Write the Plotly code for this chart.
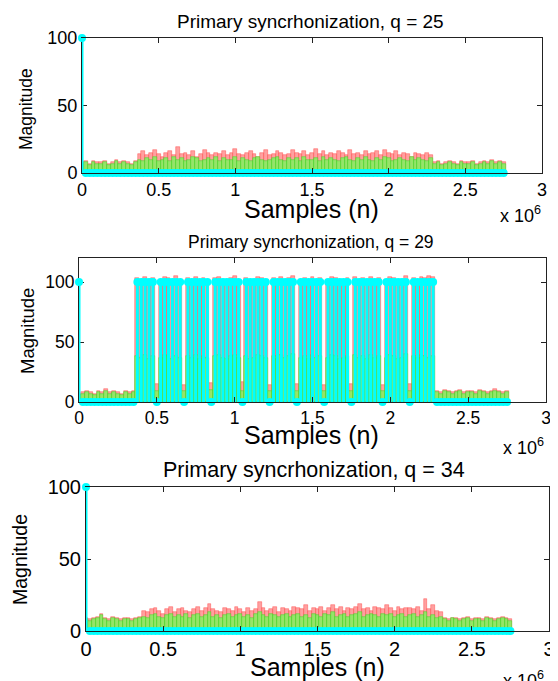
import plotly.graph_objects as go

# the page body has an 8px margin, so the figure is drawn 8px in from the corner
OFF = 8
W, H = 558 - OFF, 681 - OFF

# sample positions, in units of 10^6 samples
samples_m = [round(i * 0.025, 3) for i in range(111)]
x_ticks = [0, 0.5, 1, 1.5, 2, 2.5, 3]
x_tick_text = ["0", "0.5", "1", "1.5", "2", "2.5", "3"]
y_ticks = [0, 50, 100]

# ---------------- q = 25 ----------------
green_q25 = ([7, 8, 6, 8, 7, 7, 8, 6, 7, 9, 7, 8, 7, 6, 8] +
             [10, 9, 11, 10, 12, 9, 10, 11, 9, 12, 10, 11, 9, 10, 12, 11, 9, 10, 11, 10,
              12, 9, 11, 10, 10, 12, 9, 11, 10, 9, 11, 12, 10, 9, 10, 11, 12, 10, 9, 11,
              10, 11, 9, 12, 10, 10, 11, 9, 12, 10, 11, 10, 9, 11, 12, 10, 9, 11, 10, 12,
              10, 9, 11, 10, 12, 11, 9, 10, 11, 10, 9, 12, 10, 11, 10, 9, 11] +
             [7, 8, 6, 7, 8, 7, 6, 8, 7, 7, 8, 6, 7, 8, 7, 9, 7, 8, 7])
red_q25 = ([8, 9, 7, 9, 8, 8, 9, 7, 8, 10, 8, 9, 8, 7, 9] +
           [14, 16, 13, 15, 17, 14, 12, 15, 16, 13, 19, 14, 15, 13, 16, 12, 14, 17, 15, 13,
            15, 14, 16, 13, 15, 18, 14, 13, 15, 16, 14, 12, 15, 17, 13, 14, 16, 15, 13, 14,
            17, 15, 14, 16, 13, 15, 18, 14, 16, 13, 15, 14, 16, 15, 13, 17, 14, 15, 13, 16,
            14, 15, 16, 13, 17, 15, 14, 16, 13, 15, 14, 12, 15, 14, 13, 15, 13] +
           [8, 9, 7, 8, 9, 8, 7, 9, 8, 8, 9, 7, 8, 9, 8, 10, 8, 9, 8])
cyan_q25 = [100] + [0] * 110

# ---------------- q = 29 ----------------
green_q29 = ([6, 7, 8, 7, 6, 8, 7, 9, 7, 8, 7, 6, 8, 7, 8] +
             [38, 37, 39, 36, 38, 9, 37, 39, 38, 36, 38, 37, 9, 38, 37, 39, 36, 38, 37, 10,
              38, 39, 37, 36, 38, 39, 37, 9, 38, 36, 37, 39, 38, 37, 9, 38, 36, 39, 37, 38,
              40, 9, 37, 38, 36, 39, 37, 38, 9, 37, 39, 38, 36, 37, 38, 9, 39, 37, 38, 36,
              39, 37, 38, 9, 37, 39, 38, 36, 37, 40, 9, 38, 37, 39, 38, 37, 38] +
             [8, 7, 9, 8, 7, 8, 9, 7, 8, 8, 7, 9, 8, 7, 8, 9, 8, 7, 8])
red_q29 = ([7, 8, 9, 8, 7, 9, 8, 11, 8, 9, 8, 7, 9, 8, 9] +
           [103, 102, 104, 101, 103, 15, 102, 104, 103, 101, 105, 102, 14, 103, 102, 104, 101, 103, 102, 16,
            103, 104, 102, 101, 103, 105, 102, 17, 103, 101, 102, 104, 103, 102, 14, 103, 101, 104, 102, 103,
            105, 15, 102, 103, 101, 104, 102, 103, 14, 102, 104, 103, 101, 102, 103, 15, 104, 102, 103, 101,
            104, 102, 103, 14, 102, 104, 103, 101, 102, 105, 15, 103, 102, 104, 103, 105, 104] +
           [9, 8, 10, 9, 8, 9, 10, 8, 9, 9, 8, 10, 9, 8, 9, 11, 9, 8, 9])
cyan_q29 = ([100] + [0] * 14 +
            [100, 100, 100, 100, 100, 0, 100, 100, 100, 100, 100, 100, 0, 100, 100, 100, 100, 100, 100, 0,
             100, 100, 100, 100, 100, 100, 100, 0, 100, 100, 100, 100, 100, 100, 0, 100, 100, 100, 100, 100,
             100, 0, 100, 100, 100, 100, 100, 100, 0, 100, 100, 100, 100, 100, 100, 0, 100, 100, 100, 100,
             100, 100, 100, 0, 100, 100, 100, 100, 100, 100, 0, 100, 100, 100, 100, 100, 100] +
            [0] * 19)

# ---------------- q = 34 ----------------
green_q34 = ([8, 7, 8, 9, 11, 8, 7, 9, 8, 7, 8, 8, 7, 8, 9] +
             [10, 9, 11, 12, 10, 9, 11, 12, 10, 11, 10, 12, 9, 11, 12, 10, 11, 13, 10, 11,
              9, 11, 12, 10, 11, 12, 10, 11, 9, 12, 13, 11, 10, 12, 11, 10, 11, 12, 10, 11,
              12, 10, 11, 9, 12, 11, 10, 12, 11, 13, 10, 11, 12, 10, 11, 12, 13, 10, 11, 12,
              11, 10, 12, 11, 12, 10, 11, 12, 10, 11, 12, 10, 11, 13, 10, 11, 9, 10] +
             [8, 7, 9, 8, 7, 8, 9, 7, 8, 8, 7, 9, 8, 7, 8, 9, 8, 7])
red_q34 = ([9, 8, 9, 10, 12, 9, 8, 10, 9, 8, 9, 9, 8, 9, 10] +
           [14, 13, 15, 16, 14, 12, 15, 17, 13, 15, 16, 14, 13, 15, 17, 14, 16, 19, 15, 14,
            13, 16, 15, 14, 17, 15, 13, 16, 14, 15, 20, 16, 14, 15, 17, 13, 16, 15, 14, 17,
            16, 15, 18, 14, 16, 15, 17, 14, 16, 18, 15, 17, 14, 16, 15, 17, 19, 15, 16, 14,
            17, 16, 15, 18, 16, 14, 17, 15, 16, 16, 15, 17, 14, 22, 15, 18, 14, 13] +
           [9, 8, 9, 9, 8, 9, 10, 8, 9, 9, 8, 10, 9, 8, 9, 10, 9, 8])
cyan_q34 = [100] + [0] * 110

titles = ["Primary syncrhonization, q = 25",
          "Primary syncrhonization, q = 29",
          "Primary syncrhonization, q = 34"]

panels = [
    dict(red=red_q25, green=green_q25, cyan=cyan_q25, title=titles[0],
         xpx=(82, 542), ypx=(38, 173), yr=100, tfs=19, tkfs=18,
         title_y=21, title_x=310, samp_y=209, samp_x=311, mag_x=26, mag_y=109, magfs=17.5,
         x10=(520, 214)),
    dict(red=red_q29, green=green_q29, cyan=cyan_q29, title=titles[1],
         xpx=(79, 546), ypx=(258, 402), yr=120, tfs=17.5, tkfs=17.5,
         title_y=242, title_x=311, samp_y=435, samp_x=311, mag_x=27, mag_y=331, magfs=18.5,
         x10=(523, 446)),
    dict(red=red_q34, green=green_q34, cyan=cyan_q34, title=titles[2],
         xpx=(86, 549), ypx=(487, 631), yr=100, tfs=21.5, tkfs=20,
         title_y=470, title_x=314, samp_y=667, samp_x=317, mag_x=20, mag_y=560, magfs=19.5,
         x10=(523, 679)),
]


def px_x(px):
    return (px - OFF) / W


def px_y(py):
    return 1 - (py - OFF) / H


FONT = "Arial, Liberation Sans, Helvetica, sans-serif"
fig = go.Figure()
annotations = []

for k, p in enumerate(panels, start=1):
    xa = "x" if k == 1 else f"x{k}"
    ya = "y" if k == 1 else f"y{k}"
    fig.add_trace(go.Bar(x=samples_m, y=p["red"], width=0.025, xaxis=xa, yaxis=ya,
                         marker=dict(color="rgb(255,160,160)",
                                     line=dict(color="rgba(255,0,0,0.5)", width=0.6)),
                         showlegend=False))
    fig.add_trace(go.Bar(x=samples_m, y=p["green"], width=0.025, xaxis=xa, yaxis=ya,
                         marker=dict(color="rgb(150,228,105)",
                                     line=dict(color="rgba(0,230,0,0.6)", width=0.6)),
                         showlegend=False))
    sx, sy = [], []
    for xv, cv in zip(samples_m, p["cyan"]):
        if cv:
            sx += [xv, xv, None]
            sy += [0, cv, None]
    fig.add_trace(go.Scatter(x=sx, y=sy, mode="lines", xaxis=xa, yaxis=ya,
                             line=dict(color="rgb(0,255,255)", width=3.0),
                             cliponaxis=False, showlegend=False, hoverinfo="skip"))
    fig.add_trace(go.Scatter(x=samples_m, y=p["cyan"], mode="markers", xaxis=xa, yaxis=ya,
                             marker=dict(color="rgb(0,255,255)", size=8, line=dict(width=0)),
                             cliponaxis=False, showlegend=False, hoverinfo="skip"))

    x0, x1 = p["xpx"]
    y0, y1 = p["ypx"]
    xkey = "xaxis" if k == 1 else f"xaxis{k}"
    ykey = "yaxis" if k == 1 else f"yaxis{k}"
    fig.update_layout(**{
        xkey: dict(domain=[px_x(x0), px_x(x1)], range=[0, 3], anchor=ya, automargin=False,
                   tickvals=x_ticks, ticktext=x_tick_text, ticks="inside", ticklen=5,
                   tickcolor="#222", showline=True, linecolor="#222", linewidth=1,
                   mirror="ticks", showgrid=False, zeroline=False,
                   tickfont=dict(size=p["tkfs"], color="black", family=FONT),
                   layer="above traces"),
        ykey: dict(domain=[px_y(y1), px_y(y0)], range=[0, p["yr"]], anchor=xa,
                   automargin=False,
                   tickvals=y_ticks, ticks="inside", ticklen=5, tickcolor="#222",
                   showline=True, linecolor="#222", linewidth=1, mirror="ticks",
                   showgrid=False, zeroline=False,
                   tickfont=dict(size=p["tkfs"], color="black", family=FONT),
                   layer="below traces"),
    })
    annotations += [
        dict(text=p["title"], x=px_x(p["title_x"]), y=px_y(p["title_y"]), xref="paper",
             yref="paper", showarrow=False, xanchor="center", yanchor="middle",
             font=dict(size=p["tfs"], color="black", family=FONT)),
        dict(text="Samples (n)", x=px_x(p["samp_x"]), y=px_y(p["samp_y"]), xref="paper",
             yref="paper", showarrow=False, xanchor="center", yanchor="middle",
             font=dict(size=25, color="black", family=FONT)),
        dict(text="Magnitude", x=px_x(p["mag_x"]), y=px_y(p["mag_y"]), xref="paper",
             yref="paper", showarrow=False, xanchor="center", yanchor="middle", textangle=-90,
             font=dict(size=p["magfs"], color="black", family=FONT)),
        dict(text="x 10<sup>6</sup>", x=px_x(p["x10"][0]), y=px_y(p["x10"][1]), xref="paper",
             yref="paper", showarrow=False, xanchor="center", yanchor="middle",
             font=dict(size=18, color="black", family=FONT)),
    ]

fig.update_layout(template="none", width=W, height=H, margin=dict(l=0, r=0, t=0, b=0),
                  paper_bgcolor="white", plot_bgcolor="white", barmode="overlay",
                  bargap=0, annotations=annotations, showlegend=False)

fig.write_html("out.html")
